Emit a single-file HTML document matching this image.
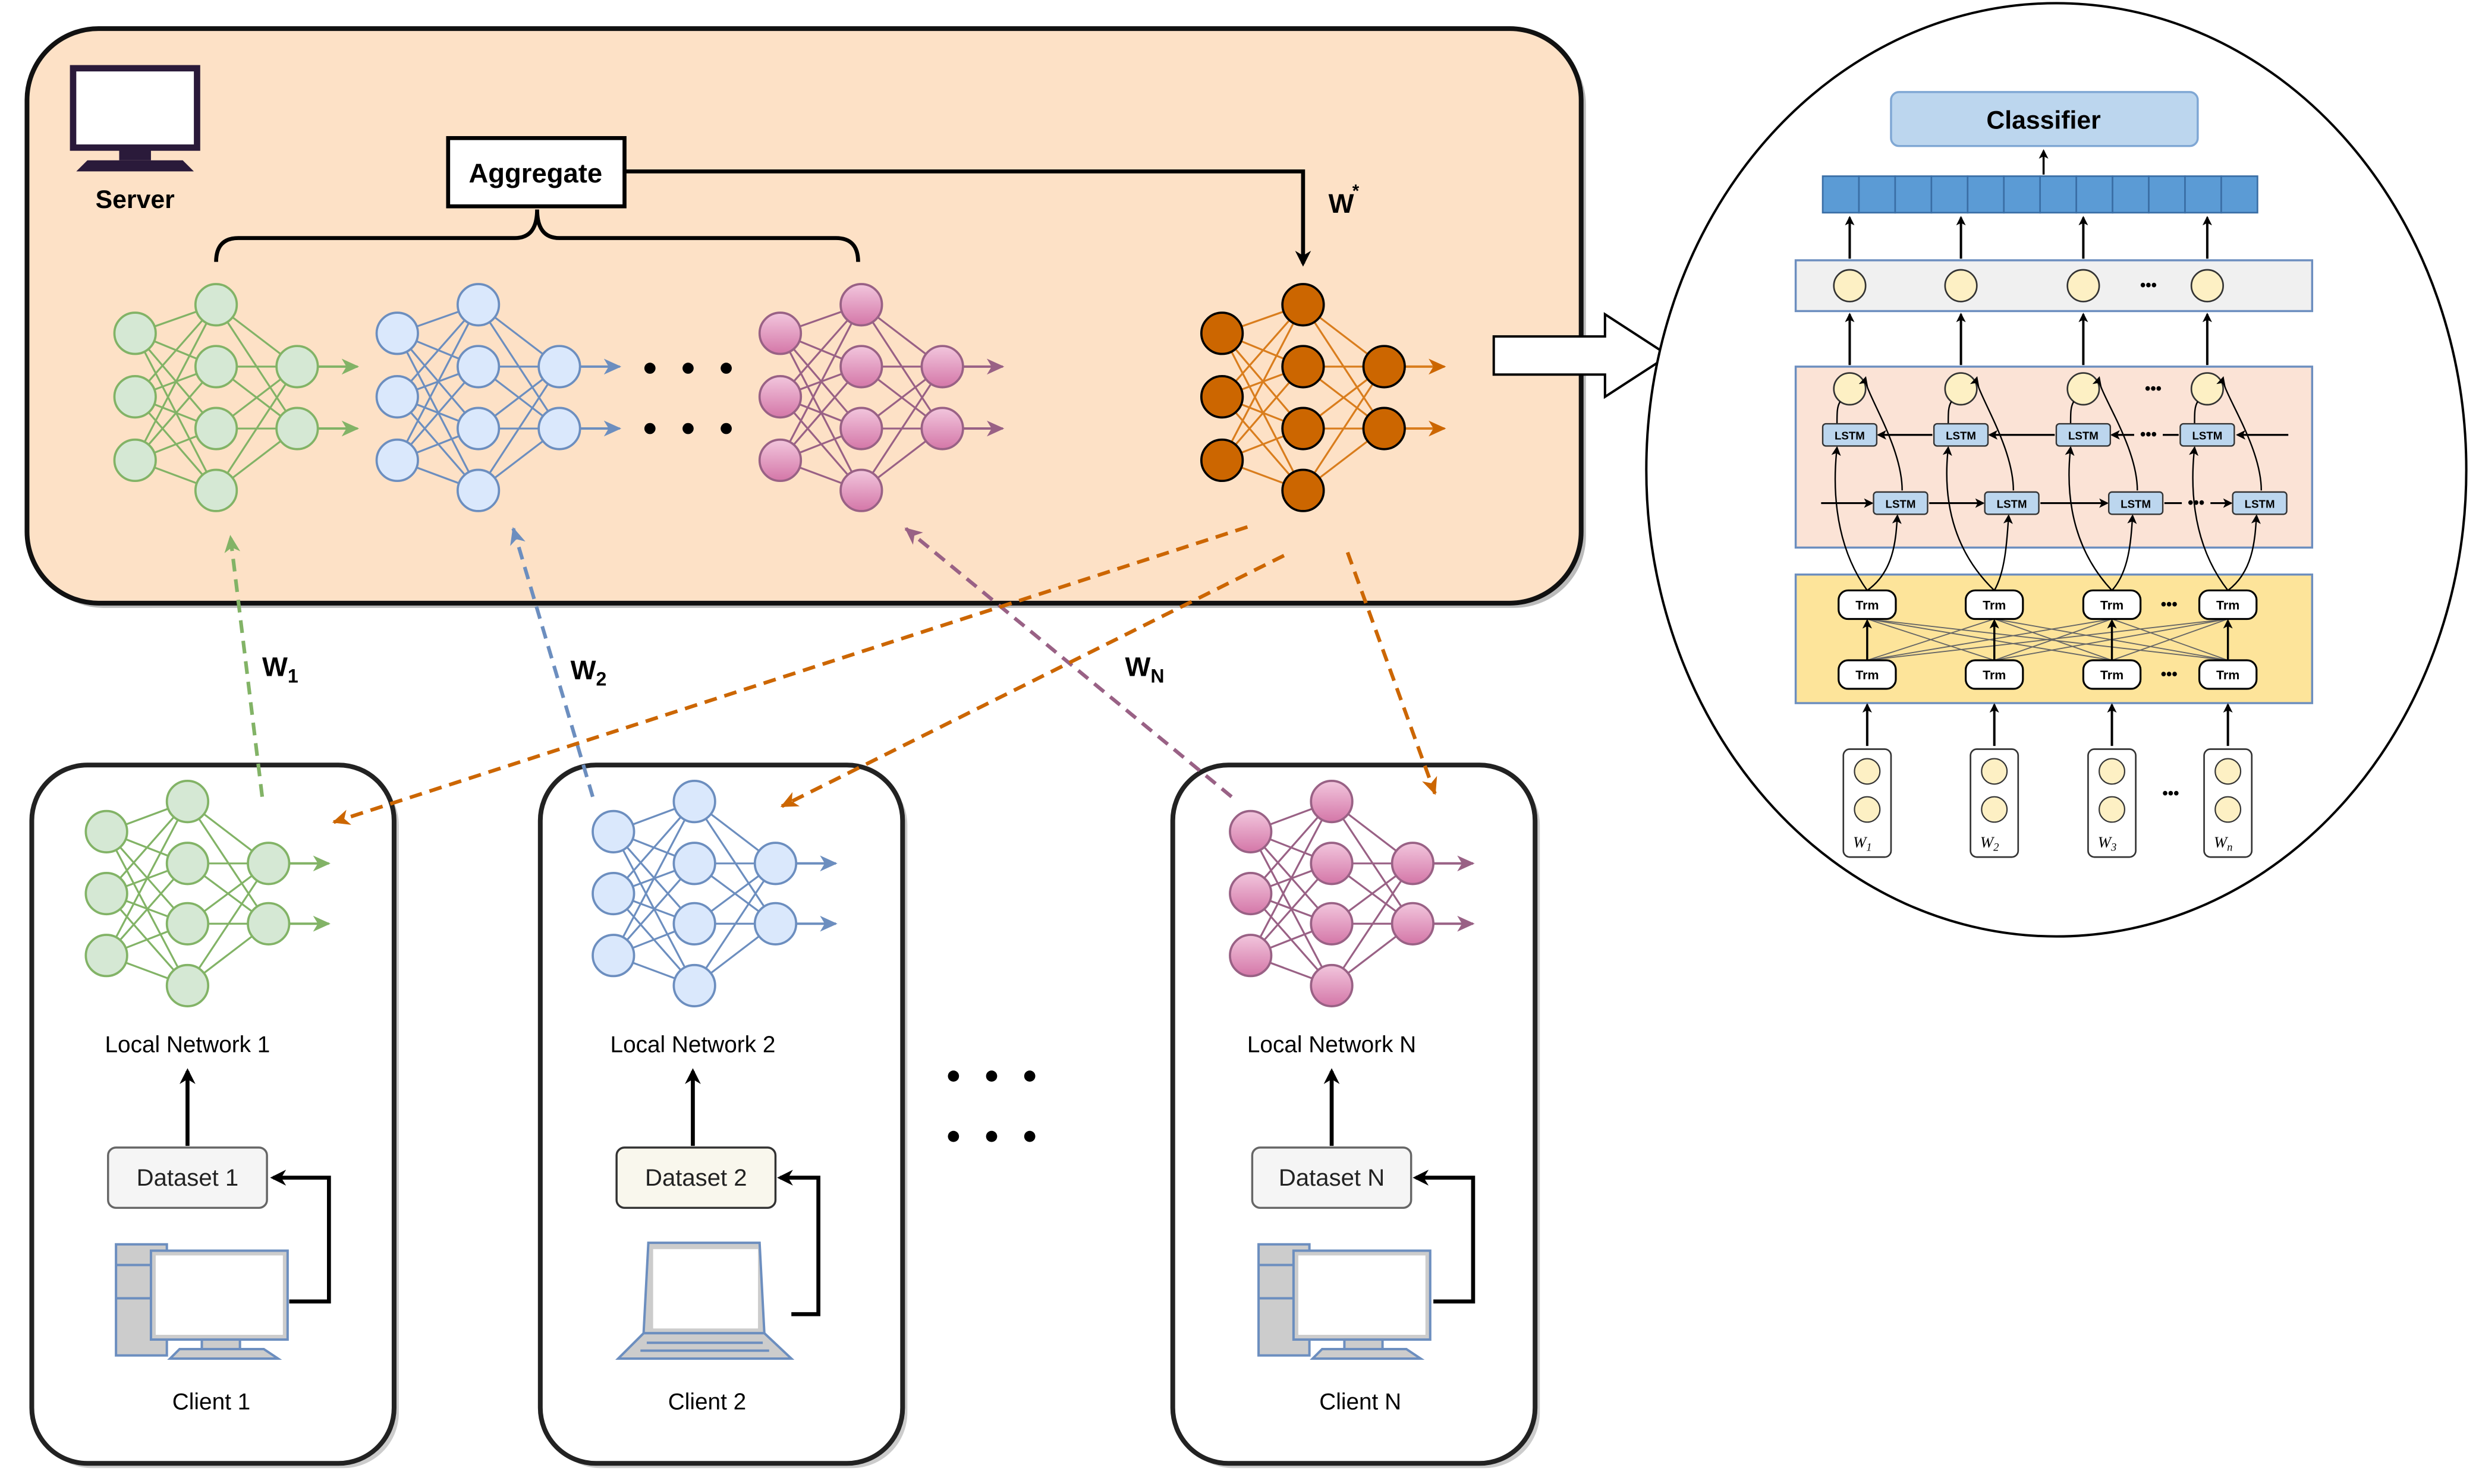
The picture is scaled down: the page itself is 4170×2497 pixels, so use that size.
<!DOCTYPE html>
<html><head><meta charset="utf-8">
<style>
html,body{margin:0;padding:0;background:#fff;}
svg{display:block;font-family:"Liberation Sans",sans-serif;}
</style></head>
<body>
<svg id="s" width="4170" height="2497" viewBox="0 0 1560 935" preserveAspectRatio="none" xmlns="http://www.w3.org/2000/svg">
<defs>
<marker id="ab" markerWidth="10" markerHeight="10" refX="8" refY="5" orient="auto" markerUnits="userSpaceOnUse"><path d="M0,0 L10,5 L0,10 L3,5z" fill="#000"/></marker>
<marker id="as" markerWidth="6" markerHeight="6" refX="5" refY="3" orient="auto" markerUnits="userSpaceOnUse"><path d="M0,0 L6,3 L0,6 L1.5,3z" fill="#000"/></marker>
<marker id="ag" markerWidth="12" markerHeight="12" refX="10" refY="6" orient="auto" markerUnits="userSpaceOnUse"><path d="M0,1 L11,6 L0,11 L3,6z" fill="#82b366"/></marker>
<marker id="abl" markerWidth="12" markerHeight="12" refX="10" refY="6" orient="auto" markerUnits="userSpaceOnUse"><path d="M0,1 L11,6 L0,11 L3,6z" fill="#6c8ebf"/></marker>
<marker id="ap" markerWidth="12" markerHeight="12" refX="10" refY="6" orient="auto" markerUnits="userSpaceOnUse"><path d="M0,1 L11,6 L0,11 L3,6z" fill="#996185"/></marker>
<marker id="ao" markerWidth="12" markerHeight="12" refX="10" refY="6" orient="auto" markerUnits="userSpaceOnUse"><path d="M0,1 L11,6 L0,11 L3,6z" fill="#cc6600"/></marker>
<linearGradient id="pg" x1="0" y1="0" x2="0" y2="1"><stop offset="0" stop-color="#f2c6dd"/><stop offset="1" stop-color="#d477a8"/></linearGradient>
</defs>

<rect x="20" y="21" width="978" height="362" rx="45" fill="#bbb"/>
<rect x="17" y="18" width="978" height="362" rx="45" fill="#fde1c6" stroke="#111" stroke-width="3"/>
<rect x="23" y="485" width="228" height="440" rx="35" fill="#ccc"/>
<rect x="20" y="482" width="228" height="440" rx="35" fill="#fff" stroke="#222" stroke-width="3"/>
<rect x="343" y="485" width="228" height="440" rx="35" fill="#ccc"/>
<rect x="340" y="482" width="228" height="440" rx="35" fill="#fff" stroke="#222" stroke-width="3"/>
<rect x="741" y="485" width="228" height="440" rx="35" fill="#ccc"/>
<rect x="738" y="482" width="228" height="440" rx="35" fill="#fff" stroke="#222" stroke-width="3"/>

<rect x="46" y="43" width="78" height="50" fill="#fff" stroke="#2a1a3a" stroke-width="4"/>
<rect x="75" y="93" width="20" height="8" fill="#2a1a3a"/>
<path d="M55,101 L115,101 L122,108 L48,108z" fill="#2a1a3a"/>
<text x="85" y="131" font-size="16" font-weight="bold" text-anchor="middle">Server</text>

<rect x="282" y="87" width="111" height="43" fill="#fff" stroke="#000" stroke-width="2.5"/>
<text x="337" y="115" font-size="17" font-weight="bold" text-anchor="middle">Aggregate</text>
<path d="M393,108 L820,108 L820,166" fill="none" stroke="#000" stroke-width="2.5" marker-end="url(#ab)"/>
<path d="M136,165 Q136,150 150,150 L324,150 Q338,150 338,132 Q338,150 352,150 L526,150 Q540,150 540,165" fill="none" stroke="#000" stroke-width="2.5"/>
<text x="836" y="134" font-size="17" font-weight="bold">W</text><text x="851" y="124" font-size="11" font-weight="bold">*</text>

<g id="nets"></g>

<g fill="#000">
<circle cx="409" cy="232" r="3.5"/><circle cx="433" cy="232" r="3.5"/><circle cx="457" cy="232" r="3.5"/>
<circle cx="409" cy="270" r="3.5"/><circle cx="433" cy="270" r="3.5"/><circle cx="457" cy="270" r="3.5"/>
<circle cx="600" cy="678" r="3.5"/><circle cx="624" cy="678" r="3.5"/><circle cx="648" cy="678" r="3.5"/>
<circle cx="600" cy="716" r="3.5"/><circle cx="624" cy="716" r="3.5"/><circle cx="648" cy="716" r="3.5"/>
</g>

<g fill="none" stroke-width="2.3" stroke-dasharray="8,5">
<path d="M165,502 L145,338" stroke="#82b366" marker-end="url(#ag)"/>
<path d="M373,502 L323,333" stroke="#6c8ebf" marker-end="url(#abl)"/>
<path d="M775,502 L570,333" stroke="#996185" marker-end="url(#ap)"/>
<path d="M785,332 L210,518" stroke="#cc6600" marker-end="url(#ao)"/>
<path d="M808,350 L492,508" stroke="#cc6600" marker-end="url(#ao)"/>
<path d="M848,348 L903,500" stroke="#cc6600" marker-end="url(#ao)"/>
</g>
<text x="165" y="426" font-size="17" font-weight="bold">W<tspan font-size="12" dy="4">1</tspan></text>
<text x="359" y="428" font-size="17" font-weight="bold">W<tspan font-size="12" dy="4">2</tspan></text>
<text x="708" y="426" font-size="17" font-weight="bold">W<tspan font-size="12" dy="4">N</tspan></text>

<g font-size="14.5" text-anchor="middle">
<text x="118" y="663">Local Network 1</text>
<text x="436" y="663">Local Network 2</text>
<text x="838" y="663">Local Network N</text>
<text x="133" y="888">Client 1</text>
<text x="445" y="888">Client 2</text>
<text x="856" y="888">Client N</text>
</g>
<g stroke="#000" stroke-width="2.5" fill="none">
<path d="M118,722 L118,675" marker-end="url(#ab)"/>
<path d="M436,722 L436,675" marker-end="url(#ab)"/>
<path d="M838,722 L838,675" marker-end="url(#ab)"/>
<path d="M182,820 L207,820 L207,742 L172,742" marker-end="url(#ab)"/>
<path d="M498,828 L515,828 L515,742 L491,742" marker-end="url(#ab)"/>
<path d="M902,820 L927,820 L927,742 L891,742" marker-end="url(#ab)"/>
</g>
<rect x="68" y="723" width="100" height="38" rx="5" fill="#f5f5f5" stroke="#666" stroke-width="1.3"/>
<rect x="388" y="723" width="100" height="38" rx="5" fill="#f9f7ed" stroke="#333" stroke-width="1.3"/>
<rect x="788" y="723" width="100" height="38" rx="5" fill="#f5f5f5" stroke="#666" stroke-width="1.3"/>
<g font-size="15" text-anchor="middle" fill="#222">
<text x="118" y="747">Dataset 1</text><text x="438" y="747">Dataset 2</text><text x="838" y="747">Dataset N</text>
</g>
<g stroke="#6c8ebf" stroke-width="1.5">
<rect x="73" y="784" width="32" height="70" fill="#ccc"/>
<line x1="73" y1="797" x2="105" y2="797"/><line x1="73" y1="818" x2="105" y2="818"/>
<rect x="95" y="788" width="86" height="56" fill="#ccc"/>
<rect x="98" y="791" width="80" height="50" fill="#fff" stroke="none"/>
<rect x="127" y="844" width="24" height="8" fill="#ccc"/>
<path d="M107,856 L113,850 L166,850 L175,856z" fill="#ccc"/>
</g>
<g stroke="#6c8ebf" stroke-width="1.5">
<path d="M408,783 L478,783 L481,840 L405,840z" fill="#ccc"/>
<rect x="411" y="787" width="66" height="50" fill="#fff" stroke="none"/>
<path d="M405,840 L481,840 L498,856 L389,856z" fill="#ccc"/>
<line x1="407" y1="846" x2="480" y2="846"/><line x1="403" y1="851" x2="484" y2="851"/>
</g>
<g stroke="#6c8ebf" stroke-width="1.5">
<rect x="792" y="784" width="32" height="70" fill="#ccc"/>
<line x1="792" y1="797" x2="824" y2="797"/><line x1="792" y1="818" x2="824" y2="818"/>
<rect x="814" y="788" width="86" height="56" fill="#ccc"/>
<rect x="817" y="791" width="80" height="50" fill="#fff" stroke="none"/>
<rect x="846" y="844" width="24" height="8" fill="#ccc"/>
<path d="M826,856 L832,850 L885,850 L894,856z" fill="#ccc"/>
</g>

<path d="M940,212 L1010,212 L1010,198 L1050,224 L1010,250 L1010,236 L940,236z" fill="#fff" stroke="#000" stroke-width="1.5"/>

<ellipse cx="1294" cy="296" rx="258" ry="294" fill="#fff" stroke="#000" stroke-width="1.5"/>
<rect x="1190" y="58" width="193" height="34" rx="5" fill="#bcd6ee" stroke="#7fa7d4" stroke-width="1.3"/>
<text x="1286" y="81" font-size="16" font-weight="bold" text-anchor="middle">Classifier</text>
<g id="right"></g>
</svg>
<script>
var NS="http://www.w3.org/2000/svg";
function el(p,t,a){var e=document.createElementNS(NS,t);for(var k in a)e.setAttribute(k,a[k]);p.appendChild(e);return e;}
var g=document.getElementById("nets");
function net(x0,yIn,yHid,yOut,dx,fill,stroke,lc,mk,r,ns){
  var x1=x0+dx,x2=x0+2*dx;
  yIn.forEach(function(a){yHid.forEach(function(b){el(g,"line",{x1:x0,y1:a,x2:x1,y2:b,stroke:lc,"stroke-width":1.2});});});
  yHid.forEach(function(a){yOut.forEach(function(b){el(g,"line",{x1:x1,y1:a,x2:x2,y2:b,stroke:lc,"stroke-width":1.2});});});
  yOut.forEach(function(b){el(g,"line",{x1:x2+r,y1:b,x2:x2+r+25,y2:b,stroke:lc,"stroke-width":1.5,"marker-end":"url(#"+mk+")"});});
  [[x0,yIn],[x1,yHid],[x2,yOut]].forEach(function(c){c[1].forEach(function(y){el(g,"circle",{cx:c[0],cy:y,r:r,fill:fill,stroke:ns,"stroke-width":1.4});});});
}
var si=[210,250,290],sh=[192,231,270,309],so=[231,270];
net(85,si,sh,so,51,"#d5e8d4","#82b366","#82b366","ag",13,"#82b366");
net(250,si,sh,so,51,"#dae8fc","#6c8ebf","#6c8ebf","abl",13,"#6c8ebf");
net(491,si,sh,so,51,"url(#pg)","#996185","#996185","ap",13,"#996185");
net(769,si,sh,so,51,"#cc6600","#000","#d97d1d","ao",13,"#000");
var ci=[524,563,602],ch=[505,544,582,621],co=[544,582];
net(67,ci,ch,co,51,"#d5e8d4","#82b366","#82b366","ag",13,"#82b366");
net(386,ci,ch,co,51,"#dae8fc","#6c8ebf","#6c8ebf","abl",13,"#6c8ebf");
net(787,ci,ch,co,51,"url(#pg)","#996185","#996185","ap",13,"#996185");

var R=document.getElementById("right");
for(var i=0;i<12;i++){el(R,"rect",{x:1147+i*22.8,y:111,width:22.8,height:23,fill:"#5b9bd5",stroke:"#3a6ea5","stroke-width":1});}
el(R,"line",{x1:1286,y1:110,x2:1286,y2:95,stroke:"#000","stroke-width":1.3,"marker-end":"url(#as)"});
el(R,"rect",{x:1130,y:164,width:325,height:32,fill:"#f0f0f0",stroke:"#6c8ebf","stroke-width":1.3});
el(R,"rect",{x:1130,y:231,width:325,height:114,fill:"#fbe3d6",stroke:"#6c8ebf","stroke-width":1.3});
el(R,"rect",{x:1130,y:362,width:325,height:81,fill:"#fde49a",stroke:"#6c8ebf","stroke-width":1.3});
var X=[1164,1234,1311,1389];
X.forEach(function(x){
  el(R,"line",{x1:x,y1:163,x2:x,y2:137,stroke:"#000","stroke-width":1.5,"marker-end":"url(#as)"});
  el(R,"circle",{cx:x,cy:180,r:10,fill:"#fdf0c4",stroke:"#333","stroke-width":1});
  el(R,"line",{x1:x,y1:230,x2:x,y2:198,stroke:"#000","stroke-width":1.5,"marker-end":"url(#as)"});
  el(R,"circle",{cx:x,cy:245,r:10,fill:"#fdf0c4",stroke:"#333","stroke-width":1});
});
var T=[1175,1255,1329,1402],L2=[1196,1266,1344,1422];
el(R,"line",{x1:1440,y1:274,x2:1408,y2:274,stroke:"#000","stroke-width":1.2,"marker-end":"url(#as)"});
for(var i=3;i>0;i--){el(R,"line",{x1:X[i]-18,y1:274,x2:X[i-1]+18,y2:274,stroke:"#000","stroke-width":1.2,"marker-end":"url(#as)"});}
el(R,"line",{x1:1146,y1:317,x2:L2[0]-18,y2:317,stroke:"#000","stroke-width":1.2,"marker-end":"url(#as)"});
for(var i=0;i<3;i++){el(R,"line",{x1:L2[i]+18,y1:317,x2:L2[i+1]-18,y2:317,stroke:"#000","stroke-width":1.2,"marker-end":"url(#as)"});}
// dots first (under boxes)
[[1352,183],[1355,248],[1352,277],[1382,320],[1365,384],[1365,428],[1366,503]].forEach(function(p){
  el(R,"rect",{x:p[0]-9,y:p[1]-7,width:18,height:9,fill:p[1]<200?"#f0f0f0":(p[1]<350?"#fbe3d6":(p[1]<450?"#fde49a":"#fff"))});
  var tx=el(R,"text",{x:p[0],y:p[1],"font-size":10,"font-weight":"bold","text-anchor":"middle"});tx.textContent="•••";
});
for(var i=0;i<4;i++){
  var x=X[i],t=T[i],l=L2[i];
  el(R,"path",{d:"M"+t+",372 C"+(x-12)+",340 "+(x-10)+",300 "+(x-8)+",282",fill:"none",stroke:"#000","stroke-width":0.9,"marker-end":"url(#as)"});
  el(R,"path",{d:"M"+t+",372 C"+(l-4)+",360 "+(l-3)+",340 "+(l-2)+",325",fill:"none",stroke:"#000","stroke-width":0.9,"marker-end":"url(#as)"});
  el(R,"path",{d:"M"+(x-8)+",267 C"+(x-8)+",260 "+(x-8)+",256 "+(x-6)+",253",fill:"none",stroke:"#000","stroke-width":0.9});
  el(R,"path",{d:"M"+(l+1)+",309 C"+(l+1)+",280 "+(x+8)+",245 "+(x+10)+",238",fill:"none",stroke:"#000","stroke-width":0.9,"marker-end":"url(#as)"});
  [[x,274],[l,317]].forEach(function(p){
    el(R,"rect",{x:p[0]-17,y:p[1]-7,width:34,height:14,rx:2,fill:"#bcd6ee",stroke:"#333","stroke-width":0.9});
    var tx=el(R,"text",{x:p[0],y:p[1]+3,"font-size":7,"font-weight":"bold","text-anchor":"middle"});tx.textContent="LSTM";
  });
}
T.forEach(function(a){T.forEach(function(b){el(R,"line",{x1:a,y1:416,x2:b,y2:390,stroke:"#666","stroke-width":0.7});});});
var sub=["1","2","3","n"];
for(var i=0;i<4;i++){
  var t=T[i];
  el(R,"line",{x1:t,y1:416,x2:t,y2:391,stroke:"#000","stroke-width":1.3,"marker-end":"url(#as)"});
  [381,425].forEach(function(y){
    el(R,"rect",{x:t-18,y:y-9,width:36,height:18,rx:6,fill:"#fff",stroke:"#000","stroke-width":1.2});
    var tx=el(R,"text",{x:t,y:y+3,"font-size":8,"font-weight":"bold","text-anchor":"middle"});tx.textContent="Trm";
  });
  el(R,"line",{x1:t,y1:470,x2:t,y2:444,stroke:"#000","stroke-width":1.5,"marker-end":"url(#as)"});
  el(R,"rect",{x:t-15,y:472,width:30,height:68,rx:4,fill:"#fff",stroke:"#333","stroke-width":1});
  el(R,"circle",{cx:t,cy:486,r:8,fill:"#fdf0c4",stroke:"#333","stroke-width":0.8});
  el(R,"circle",{cx:t,cy:510,r:8,fill:"#fdf0c4",stroke:"#333","stroke-width":0.8});
  var w=el(R,"text",{x:t-3,y:534,"font-size":10,"font-style":"italic","font-family":"Liberation Serif,serif","text-anchor":"middle"});
  w.textContent="W";var ts=el(w,"tspan",{"font-size":7,dy:2});ts.textContent=sub[i];
}
</script>
</body></html>
